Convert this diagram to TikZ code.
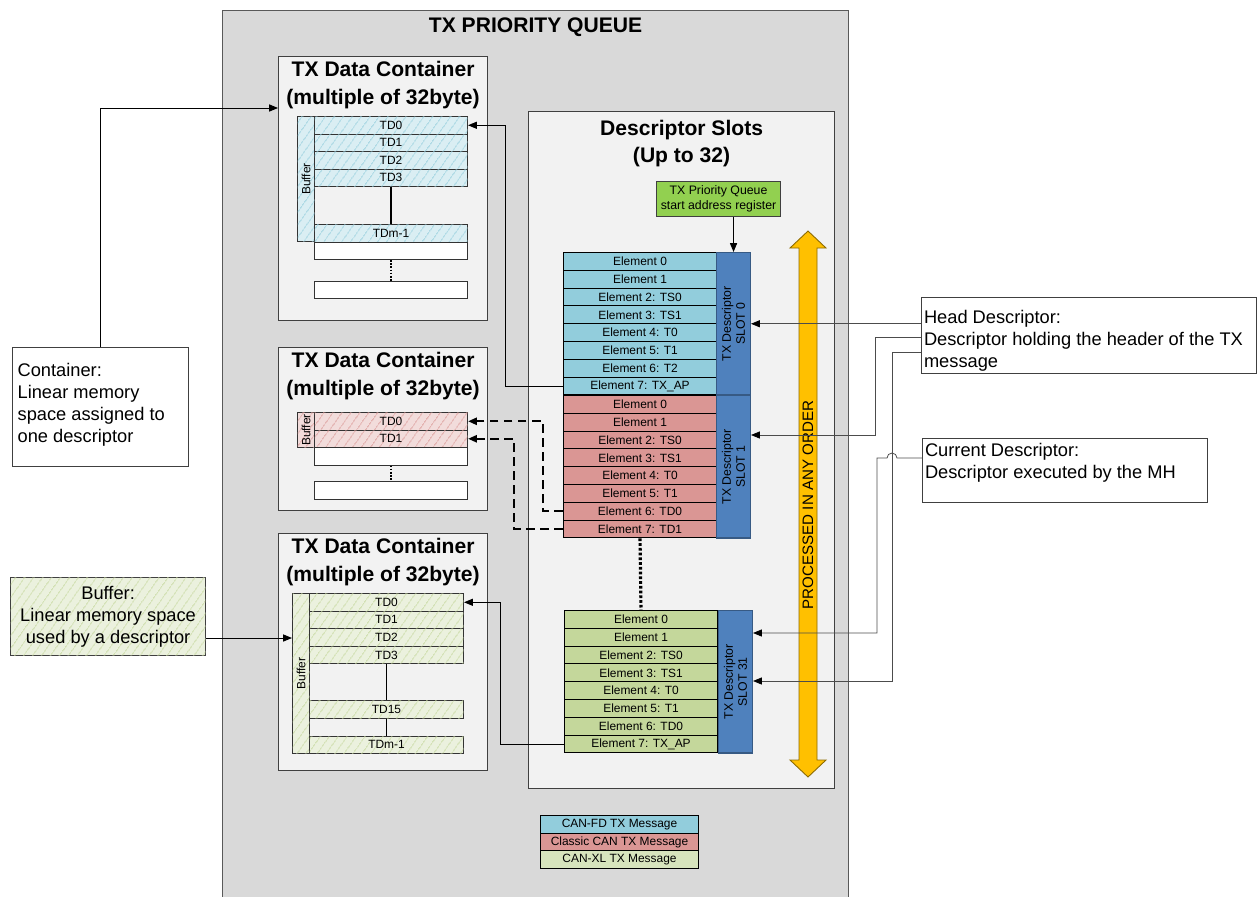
\documentclass[tikz,border=0pt]{standalone}
\usepackage{fontspec}
\setmainfont{Liberation Sans}
\usetikzlibrary{arrows.meta,patterns.meta}

\definecolor{qgray}{HTML}{D9D9D9}
\definecolor{boxgray}{HTML}{F2F2F2}
\definecolor{fdblue}{HTML}{92CDDC}
\definecolor{ccred}{HTML}{DA9694}
\definecolor{xlgreen}{HTML}{C4D79B}
\definecolor{xllegend}{HTML}{D7E4BD}
\definecolor{hblue}{HTML}{DAEEF3}
\definecolor{hred}{HTML}{F2DCDB}
\definecolor{hgreen}{HTML}{EBF1DE}
\definecolor{slotblue}{HTML}{4F81BD}
\definecolor{regreen}{HTML}{92D050}
\definecolor{ordorange}{HTML}{FFC000}

\tikzset{
  conn/.style={-{Triangle[length=5pt,width=4pt]}, line width=0.55pt},
  thinconn/.style={-{Triangle[length=5pt,width=4pt,color=black]}, draw=black!70, line width=0.45pt},
  dsh/.style={conn, line width=1.3pt, dash pattern=on 5pt off 3pt},
  dotline/.style={line width=1.8pt, dash pattern=on 1.5pt off 1.2pt},
  thindot/.style={line width=1.3pt, dash pattern=on 1pt off 0.8pt},
  el/.style={draw, line width=0.6pt, minimum width=3.06cm, minimum height=0.356cm,
    inner sep=0pt, anchor=north west, font=\fontsize{6.8}{7}\selectfont},
  td/.style={el, draw=black!80, minimum height=0.35cm},
  blank/.style={td, fill=white},
  hatch/.style 2 args={fill=#1, postaction={pattern={Lines[angle=55,distance=4pt,line width=0.5pt]}, pattern color=#2}},
  buf/.style={draw=black!80, line width=0.6pt, minimum width=0.34cm, inner sep=0pt, anchor=north west},
  bar/.style={draw=slotblue!70!black, fill=slotblue, line width=0.6pt, minimum width=0.68cm,
    minimum height=2.85cm, inner sep=0pt, anchor=north west},
  vtext/.style={rotate=90, align=center, font=\fontsize{6.8}{8}\selectfont},
  cont/.style={draw=black!75, fill=boxgray, line width=0.7pt, anchor=north west, inner sep=0pt},
  ttl/.style={anchor=north, align=center, inner sep=3pt, font=\fontsize{12}{15.5}\selectfont\bfseries},
  note/.style={draw=black!75, fill=white, line width=0.7pt, anchor=north west, inner sep=0pt},
  notetext/.style={anchor=north west, align=left, inner sep=1.5pt, font=\fontsize{10.4}{12.5}\selectfont},
  leg/.style={el, minimum width=3.16cm, minimum height=0.352cm}
}

\begin{document}
\begin{tikzpicture}[x=0.02cm, y=-0.02cm]
\useasboundingbox (0,0) rectangle (1257,896);

% queue frame
\node[draw=black!65, fill=qgray, line width=0.7pt, minimum width=12.52cm, minimum height=18cm,
  anchor=north west, inner sep=0pt] (queue) at (222,10) {};
\node[ttl, inner sep=4.5pt] (qtitle) at (queue.north) {TX PRIORITY QUEUE};

% data container 1 (CAN-FD)
\node[cont, minimum width=4.18cm, minimum height=5.28cm] (cont1) at (278,56) {};
\node[ttl] (c1title) at (cont1.north) {TX Data Container\\(multiple of 32byte)};
\node[buf, hatch={hblue}{fdblue}, minimum height=2.5cm] (c1buf) at (297,116) {};
\node[vtext] at (c1buf) {Buffer};
\foreach \t [count=\i from 0] in {TD0,TD1,TD2,TD3}
  \node[td, hatch={hblue}{fdblue}] (c1r\i) at (314,116+17.5*\i) {\t};
\node[td, hatch={hblue}{fdblue}] (c1rm) at (314,224) {TDm-1};
\node[blank] (c1w1) at (314,241.5) {};
\node[blank] (c1w2) at (314,280.5) {};
\draw[line width=0.6pt] (c1r3) -- (c1rm);
\draw[thindot] (c1w1) -- (c1w2);

% data container 2 (classic CAN)
\node[cont, minimum width=4.18cm, minimum height=3.26cm] (cont2) at (278,347) {};
\node[ttl] (c2title) at (cont2.north) {TX Data Container\\(multiple of 32byte)};
\node[buf, hatch={hred}{ccred}, minimum height=0.7cm] (c2buf) at (297,412) {};
\node[vtext] at (c2buf) {Buffer};
\node[td, hatch={hred}{ccred}] (c2r0) at (314,412) {TD0};
\node[td, hatch={hred}{ccred}] (c2r1) at (314,429.5) {TD1};
\node[blank] (c2w1) at (314,447) {};
\node[blank] (c2w2) at (314,481) {};
\draw[thindot] (c2w1) -- (c2w2);

% data container 3 (CAN-XL)
\node[cont, minimum width=4.18cm, minimum height=4.74cm] (cont3) at (278,533) {};
\node[ttl] (c3title) at (cont3.north) {TX Data Container\\(multiple of 32byte)};
\node[buf, hatch={hgreen}{xlgreen}, minimum height=3.2cm] (c3buf) at (292,593) {};
\node[vtext] at (c3buf) {Buffer};
\foreach \t [count=\i from 0] in {TD0,TD1,TD2,TD3}
  \node[td, hatch={hgreen}{xlgreen}, minimum width=3.08cm] (c3r\i) at (309,593+17.6*\i) {\t};
\node[td, hatch={hgreen}{xlgreen}, minimum width=3.08cm] (c3r15) at (309,700) {TD15};
\node[td, hatch={hgreen}{xlgreen}, minimum width=3.08cm] (c3rm) at (309,735.5) {TDm-1};
\draw[line width=0.6pt] (c3r3) -- (c3r15);
\draw[line width=0.6pt] (c3r15) -- (c3rm);

% descriptor slots
\node[cont, minimum width=6.12cm, minimum height=13.54cm] (slots) at (528,111) {};
\node[ttl, inner sep=5pt] (stitle) at (slots.north) {Descriptor Slots\\(Up to 32)};
\node[draw=black!75, fill=regreen, line width=0.6pt, minimum width=2.48cm, minimum height=0.7cm,
  inner sep=0pt, align=center, anchor=north west, font=\fontsize{7}{8.5}\selectfont]
  (reg) at (656,181) {TX Priority Queue\\start address register};

\foreach \t [count=\i from 0] in {Element 0,Element 1,Element 2: TS0,Element 3: TS1,Element 4: T0,Element 5: T1,Element 6: T2,Element 7: TX\_AP}
  \node[el, fill=fdblue] (s0e\i) at (563,252+17.8*\i) {\t};
\node[bar] (s0bar) at (716,252) {};
\node[vtext, font=\fontsize{7}{8}\selectfont] at (s0bar) {TX Descriptor\\SLOT 0};

\foreach \t [count=\i from 0] in {Element 0,Element 1,Element 2: TS0,Element 3: TS1,Element 4: T0,Element 5: T1,Element 6: TD0,Element 7: TD1}
  \node[el, fill=ccred] (s1e\i) at (563,395+17.8*\i) {\t};
\node[bar] (s1bar) at (716,395) {};
\node[vtext, font=\fontsize{7}{8}\selectfont] at (s1bar) {TX Descriptor\\SLOT 1};

\foreach \t [count=\i from 0] in {Element 0,Element 1,Element 2: TS0,Element 3: TS1,Element 4: T0,Element 5: T1,Element 6: TD0,Element 7: TX\_AP}
  \node[el, fill=xlgreen] (s31e\i) at (564,610+17.8*\i) {\t};
\node[bar] (s31bar) at (718,610) {};
\node[vtext, font=\fontsize{7}{8}\selectfont] at (s31bar) {TX Descriptor\\SLOT 31};

\draw[dotline] (s1e7.south) -- (s31e0.north);
\draw[conn] (reg.south -| s0bar.north) -- (s0bar.north);

% processing order
\draw[draw=ordorange!55!black, fill=ordorange, line width=0.5pt]
  (808,231) -- (826,248) -- (817,248) -- (817,760) -- (826,760) -- (808,777)
  -- (790,760) -- (799,760) -- (799,248) -- (790,248) -- cycle;
\node[rotate=90, font=\fontsize{8.6}{10}\selectfont] (ordtxt) at (808,505) {PROCESSED IN ANY ORDER};

% legend
\node[leg, fill=fdblue] (lg0) at (540,815) {CAN-FD TX Message};
\node[leg, fill=ccred] (lg1) at (540,832.6) {Classic CAN TX Message};
\node[leg, fill=xllegend] (lg2) at (540,850.2) {CAN-XL TX Message};

% notes
\node[note, minimum width=3.52cm, minimum height=2.38cm] (cbox) at (12,347) {};
\node[notetext, inner sep=3pt] (cboxt) at ([yshift=-6pt]cbox.north west) {Container:\\Linear memory\\space assigned to\\one descriptor};
\node[note, hatch={hgreen}{xlgreen}, minimum width=3.9cm, minimum height=1.56cm, align=center,
  font=\fontsize{10.4}{12.5}\selectfont] (bbox) at (10,577) {Buffer:\\Linear memory space\\used by a descriptor};
\node[note, minimum width=6.7cm, minimum height=1.52cm] (head) at (921,297) {};
\node[notetext] (headt) at ([yshift=-6pt]head.north west) {Head Descriptor:\\Descriptor holding the header of the TX\\message};
\node[note, minimum width=5.7cm, minimum height=1.28cm] (cur) at (922,438) {};
\node[notetext] (curt) at ([yshift=-1.5pt]cur.north west) {Current Descriptor:\\Descriptor executed by the MH};

% connectors
\draw[conn] (cbox.north) |- (cont1.west |- 0,108);
\draw[conn] (bbox.east |- 0,638) -- (c3buf.west |- 0,638);
\draw[conn] (s0e7.west) -- ++(-58,0) |- (c1r0.east);
\draw[dsh] (s1e6.west) -- ++(-20,0) |- (c2r0.east);
\draw[dsh] (s1e7.west) -- ++(-49,0) |- (c2r1.east);
\draw[conn] (s31e7.west) -- ++(-64,0) |- (c3r0.east);
\draw[thinconn] (head.west |- s0bar.east) -- (s0bar.east);
\draw[thinconn] (head.west |- 0,337) -| (875,435) -- (s1bar.east |- 0,435);
\draw[thinconn] (head.west |- 0,352) -| (892,681) -- (s31bar.east |- 0,681);
\draw[thinconn] (cur.west |- 0,458) -- (897,458) arc[start angle=0,end angle=180,radius=0.1cm]
  -- (877,458) |- (s31bar.east |- 0,633);

\end{tikzpicture}
\end{document}
